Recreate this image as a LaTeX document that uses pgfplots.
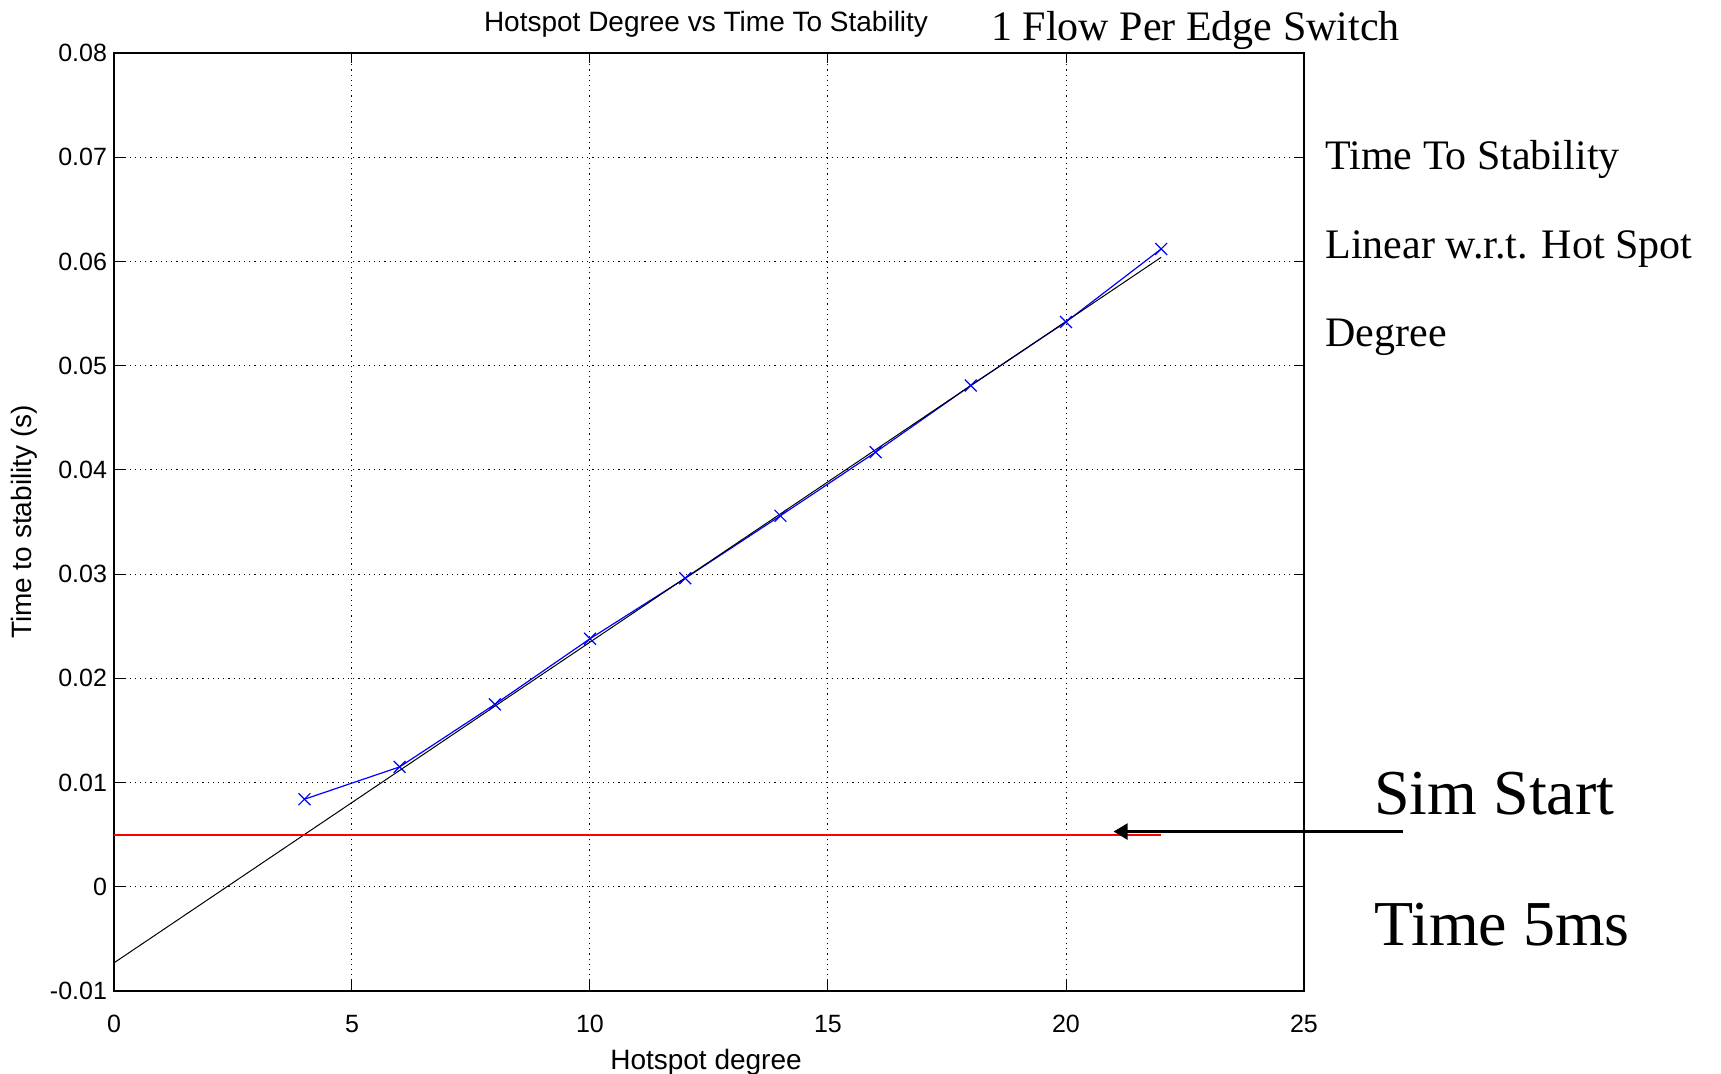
\documentclass[border=0pt]{standalone}
\usepackage{fontspec}
\setmainfont{Liberation Sans}
\newfontfamily\timesfont{Liberation Serif}
\usepackage{pgfplots}
\pgfplotsset{compat=1.18}
\usetikzlibrary{arrows.meta}

\begin{document}
\begin{tikzpicture}
\begin{axis}[
  at={(0pt,0pt)}, anchor=south west,
  scale only axis,
  width=595pt, height=469pt,
  xmin=0, xmax=25, ymin=-0.01, ymax=0.08,
  xtick={0,5,10,15,20,25},
  ytick={-0.01,0,0.01,0.02,0.03,0.04,0.05,0.06,0.07,0.08},
  scaled y ticks=false,
  yticklabel style={/pgf/number format/fixed, /pgf/number format/precision=2},
  /pgf/number format/assume math mode=true,
  ticklabel style={font=\fontsize{12.5}{14}\selectfont},
  xticklabel style={yshift=-8.5pt},
  tick align=inside,
  major tick length=5pt,
  tick style={black, line width=0.5pt},
  axis line style={black, line width=0.6pt},
  grid=major,
  grid style={black, line width=0.5pt, dash pattern=on 0.6pt off 2pt},
  clip=false,
  title={Hotspot Degree vs Time To Stability},
  title style={at={(axis description cs:0.4975,1)}, anchor=base, yshift=5pt, font=\fontsize{14}{16}\selectfont},
  xlabel={Hotspot degree},
  xlabel style={at={(axis description cs:0.4975,-0.0755)}, anchor=center, font=\fontsize{14}{16}\selectfont},
  ylabel={Time to stability (s)},
  ylabel style={at={(axis description cs:-0.0756,0.5)}, anchor=center, font=\fontsize{14}{16}\selectfont},
]
% measured time to stability
\addplot[blue, line width=0.6pt, mark=x, mark size=4.2pt] coordinates {
  (4,0.0084) (6,0.0115) (8,0.0175) (10,0.0238) (12,0.0296)
  (14,0.0356) (16,0.0417) (18,0.0481) (20,0.0542) (22,0.0612)
};
% linear fit
\addplot[black, line width=0.5pt] coordinates {(0,-0.0073) (22,0.0604)};
% sim start time 5ms
\addplot[red, line width=1pt] coordinates {(0,0.005) (22,0.005)};
\draw[-{Triangle[length=7pt,width=8pt]}, line width=1.2pt]
  (axis cs:27.08,0.0053) -- (axis cs:21.0,0.0053);
\end{axis}
\begin{scope}[every node/.style={inner sep=0pt, anchor=base west}]
\node[font=\timesfont\fontsize{21}{24}\selectfont] at (438.5pt,475pt) {1 Flow Per Edge Switch};
\node[font=\timesfont\fontsize{21}{24}\selectfont] at (605.5pt,410.5pt) {Time To Stability};
\node[font=\timesfont\fontsize{21}{24}\selectfont] at (605.5pt,366pt) {Linear w.r.t. Hot Spot};
\node[font=\timesfont\fontsize{21}{24}\selectfont] at (605.5pt,322pt) {Degree};
\node[font=\timesfont\fontsize{32}{36}\selectfont] at (630pt,88.5pt) {Sim Start};
\node[font=\timesfont\fontsize{32}{36}\selectfont] at (630pt,23pt) {Time 5ms};
\end{scope}
\pgfresetboundingbox
\path[use as bounding box] (-57pt,-41pt) rectangle (803.5pt,495.5pt);
\end{tikzpicture}
\end{document}
